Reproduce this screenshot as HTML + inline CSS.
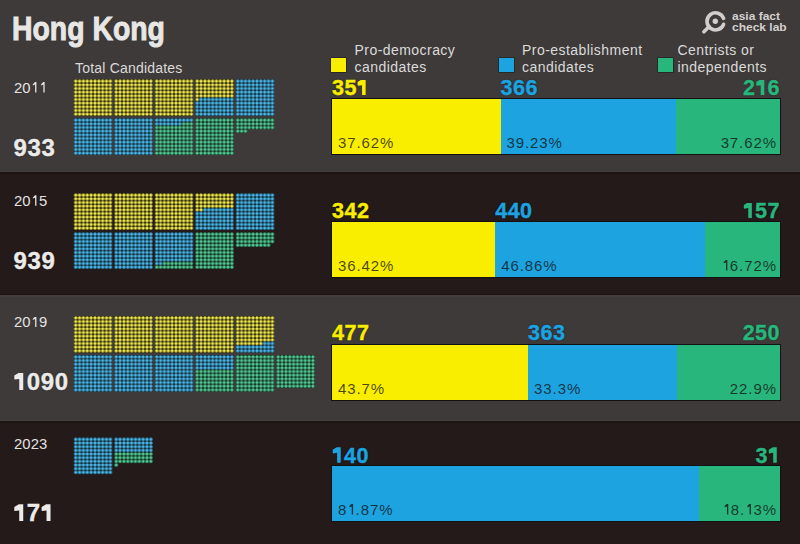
<!DOCTYPE html><html><head><meta charset="utf-8"><style>
html,body{margin:0;padding:0;}
body{width:800px;height:544px;overflow:hidden;position:relative;background:#3d3a39;font-family:"Liberation Sans",sans-serif;}
.sec{position:absolute;left:0;width:800px;}
.t{position:absolute;white-space:nowrap;line-height:1;}
.yr{font-size:14.8px;color:#e4e2e1;--c:#e4e2e1;left:14px;letter-spacing:0.1px;}
.tot{font-size:24px;font-weight:bold;color:#ecebea;--c:#ecebea;left:13.5px;letter-spacing:0.6px;-webkit-text-stroke:0.4px #ecebea;text-shadow:0 0 1.5px rgba(0,0,0,.9);}
.num{font-size:21.5px;font-weight:bold;letter-spacing:0.5px;-webkit-text-stroke:0.45px currentColor;text-shadow:0 0 1.5px rgba(0,0,0,.9);}
.pct{font-size:15px;letter-spacing:0.9px;color:rgba(16,14,14,0.76);--c:rgba(16,14,14,0.76);}
.lg{font-size:14px;color:#dcdad9;letter-spacing:0.45px;line-height:17px;}
.bar{position:absolute;left:331px;width:448px;height:55px;border:1px solid #111;}
.seg{position:absolute;top:0;height:100%;}
svg{position:absolute;left:0;top:0;}
.o1{display:inline-block;width:0.556em;height:0.716em;vertical-align:baseline;background:var(--c);
 clip-path:polygon(73% 0,73% 100%,43% 100%,43% 36%,9% 40%,6% 36%,6% 16%,40% 0);}
.yr .o1,.pct .o1{clip-path:polygon(70% 0,70% 100%,54% 100%,54% 24%,26% 32%,25% 23%,52% 0);}
</style></head><body>
<div class="sec" style="top:0px;height:172px;background:#3d3a39"></div>
<div class="sec" style="top:172px;height:123px;background:#231a19"></div>
<div class="sec" style="top:295px;height:126px;background:#3d3a39"></div>
<div class="sec" style="top:421px;height:123px;background:#231a19"></div>
<div class="sec" style="top:170.5px;height:1.5px;background:#443b3b"></div><div class="sec" style="top:172px;height:1.5px;background:#1d1514"></div>
<div class="sec" style="top:293.5px;height:1.5px;background:#1d1514"></div><div class="sec" style="top:295px;height:1.5px;background:#443b3b"></div>
<div class="sec" style="top:419.5px;height:1.5px;background:#443b3b"></div><div class="sec" style="top:421px;height:1.5px;background:#1d1514"></div>
<svg width="800" height="544" viewBox="0 0 800 544"><defs><pattern id="pY" width="3.85" height="3.66" patternUnits="userSpaceOnUse"><rect width="3.85" height="3.66" fill="#161400"/><circle cx="1.925" cy="1.83" r="1.7" fill="#f0e850"/></pattern><pattern id="pB" width="3.85" height="3.66" patternUnits="userSpaceOnUse"><rect width="3.85" height="3.66" fill="#0a1e2a"/><circle cx="1.925" cy="1.83" r="1.7" fill="#4ab6e6"/></pattern><pattern id="pG" width="3.85" height="3.66" patternUnits="userSpaceOnUse"><rect width="3.85" height="3.66" fill="#082216"/><circle cx="1.925" cy="1.83" r="1.7" fill="#52c792"/></pattern></defs>
<g transform="translate(73.80,79.30)"><rect x="0.00" y="0.00" width="38.50" height="3.66" fill="url(#pY)"/><rect x="0.00" y="3.66" width="38.50" height="3.66" fill="url(#pY)"/><rect x="0.00" y="7.32" width="38.50" height="3.66" fill="url(#pY)"/><rect x="0.00" y="10.98" width="38.50" height="3.66" fill="url(#pY)"/><rect x="0.00" y="14.64" width="38.50" height="3.66" fill="url(#pY)"/><rect x="0.00" y="18.30" width="38.50" height="3.66" fill="url(#pY)"/><rect x="0.00" y="21.96" width="38.50" height="3.66" fill="url(#pY)"/><rect x="0.00" y="25.62" width="38.50" height="3.66" fill="url(#pY)"/><rect x="0.00" y="29.28" width="38.50" height="3.66" fill="url(#pY)"/><rect x="0.00" y="32.94" width="38.50" height="3.66" fill="url(#pY)"/></g>
<g transform="translate(114.30,79.30)"><rect x="0.00" y="0.00" width="38.50" height="3.66" fill="url(#pY)"/><rect x="0.00" y="3.66" width="38.50" height="3.66" fill="url(#pY)"/><rect x="0.00" y="7.32" width="38.50" height="3.66" fill="url(#pY)"/><rect x="0.00" y="10.98" width="38.50" height="3.66" fill="url(#pY)"/><rect x="0.00" y="14.64" width="38.50" height="3.66" fill="url(#pY)"/><rect x="0.00" y="18.30" width="38.50" height="3.66" fill="url(#pY)"/><rect x="0.00" y="21.96" width="38.50" height="3.66" fill="url(#pY)"/><rect x="0.00" y="25.62" width="38.50" height="3.66" fill="url(#pY)"/><rect x="0.00" y="29.28" width="38.50" height="3.66" fill="url(#pY)"/><rect x="0.00" y="32.94" width="38.50" height="3.66" fill="url(#pY)"/></g>
<g transform="translate(154.80,79.30)"><rect x="0.00" y="0.00" width="38.50" height="3.66" fill="url(#pY)"/><rect x="0.00" y="3.66" width="38.50" height="3.66" fill="url(#pY)"/><rect x="0.00" y="7.32" width="38.50" height="3.66" fill="url(#pY)"/><rect x="0.00" y="10.98" width="38.50" height="3.66" fill="url(#pY)"/><rect x="0.00" y="14.64" width="38.50" height="3.66" fill="url(#pY)"/><rect x="0.00" y="18.30" width="38.50" height="3.66" fill="url(#pY)"/><rect x="0.00" y="21.96" width="38.50" height="3.66" fill="url(#pY)"/><rect x="0.00" y="25.62" width="38.50" height="3.66" fill="url(#pY)"/><rect x="0.00" y="29.28" width="38.50" height="3.66" fill="url(#pY)"/><rect x="0.00" y="32.94" width="38.50" height="3.66" fill="url(#pY)"/></g>
<g transform="translate(195.30,79.30)"><rect x="0.00" y="0.00" width="38.50" height="3.66" fill="url(#pY)"/><rect x="0.00" y="3.66" width="38.50" height="3.66" fill="url(#pY)"/><rect x="0.00" y="7.32" width="38.50" height="3.66" fill="url(#pY)"/><rect x="0.00" y="10.98" width="38.50" height="3.66" fill="url(#pY)"/><rect x="0.00" y="14.64" width="38.50" height="3.66" fill="url(#pY)"/><rect x="0.00" y="18.30" width="3.85" height="3.66" fill="url(#pY)"/><rect x="3.85" y="18.30" width="34.65" height="3.66" fill="url(#pB)"/><rect x="0.00" y="21.96" width="38.50" height="3.66" fill="url(#pB)"/><rect x="0.00" y="25.62" width="38.50" height="3.66" fill="url(#pB)"/><rect x="0.00" y="29.28" width="38.50" height="3.66" fill="url(#pB)"/><rect x="0.00" y="32.94" width="38.50" height="3.66" fill="url(#pB)"/></g>
<g transform="translate(235.80,79.30)"><rect x="0.00" y="0.00" width="38.50" height="3.66" fill="url(#pB)"/><rect x="0.00" y="3.66" width="38.50" height="3.66" fill="url(#pB)"/><rect x="0.00" y="7.32" width="38.50" height="3.66" fill="url(#pB)"/><rect x="0.00" y="10.98" width="38.50" height="3.66" fill="url(#pB)"/><rect x="0.00" y="14.64" width="38.50" height="3.66" fill="url(#pB)"/><rect x="0.00" y="18.30" width="38.50" height="3.66" fill="url(#pB)"/><rect x="0.00" y="21.96" width="38.50" height="3.66" fill="url(#pB)"/><rect x="0.00" y="25.62" width="38.50" height="3.66" fill="url(#pB)"/><rect x="0.00" y="29.28" width="38.50" height="3.66" fill="url(#pB)"/><rect x="0.00" y="32.94" width="38.50" height="3.66" fill="url(#pB)"/></g>
<g transform="translate(73.80,118.30)"><rect x="0.00" y="0.00" width="38.50" height="3.66" fill="url(#pB)"/><rect x="0.00" y="3.66" width="38.50" height="3.66" fill="url(#pB)"/><rect x="0.00" y="7.32" width="38.50" height="3.66" fill="url(#pB)"/><rect x="0.00" y="10.98" width="38.50" height="3.66" fill="url(#pB)"/><rect x="0.00" y="14.64" width="38.50" height="3.66" fill="url(#pB)"/><rect x="0.00" y="18.30" width="38.50" height="3.66" fill="url(#pB)"/><rect x="0.00" y="21.96" width="38.50" height="3.66" fill="url(#pB)"/><rect x="0.00" y="25.62" width="38.50" height="3.66" fill="url(#pB)"/><rect x="0.00" y="29.28" width="38.50" height="3.66" fill="url(#pB)"/><rect x="0.00" y="32.94" width="38.50" height="3.66" fill="url(#pB)"/></g>
<g transform="translate(114.30,118.30)"><rect x="0.00" y="0.00" width="38.50" height="3.66" fill="url(#pB)"/><rect x="0.00" y="3.66" width="38.50" height="3.66" fill="url(#pB)"/><rect x="0.00" y="7.32" width="38.50" height="3.66" fill="url(#pB)"/><rect x="0.00" y="10.98" width="38.50" height="3.66" fill="url(#pB)"/><rect x="0.00" y="14.64" width="38.50" height="3.66" fill="url(#pB)"/><rect x="0.00" y="18.30" width="38.50" height="3.66" fill="url(#pB)"/><rect x="0.00" y="21.96" width="38.50" height="3.66" fill="url(#pB)"/><rect x="0.00" y="25.62" width="38.50" height="3.66" fill="url(#pB)"/><rect x="0.00" y="29.28" width="38.50" height="3.66" fill="url(#pB)"/><rect x="0.00" y="32.94" width="38.50" height="3.66" fill="url(#pB)"/></g>
<g transform="translate(154.80,118.30)"><rect x="0.00" y="0.00" width="38.50" height="3.66" fill="url(#pB)"/><rect x="0.00" y="3.66" width="26.95" height="3.66" fill="url(#pB)"/><rect x="26.95" y="3.66" width="11.55" height="3.66" fill="url(#pG)"/><rect x="0.00" y="7.32" width="38.50" height="3.66" fill="url(#pG)"/><rect x="0.00" y="10.98" width="38.50" height="3.66" fill="url(#pG)"/><rect x="0.00" y="14.64" width="38.50" height="3.66" fill="url(#pG)"/><rect x="0.00" y="18.30" width="38.50" height="3.66" fill="url(#pG)"/><rect x="0.00" y="21.96" width="38.50" height="3.66" fill="url(#pG)"/><rect x="0.00" y="25.62" width="38.50" height="3.66" fill="url(#pG)"/><rect x="0.00" y="29.28" width="38.50" height="3.66" fill="url(#pG)"/><rect x="0.00" y="32.94" width="38.50" height="3.66" fill="url(#pG)"/></g>
<g transform="translate(195.30,118.30)"><rect x="0.00" y="0.00" width="38.50" height="3.66" fill="url(#pG)"/><rect x="0.00" y="3.66" width="38.50" height="3.66" fill="url(#pG)"/><rect x="0.00" y="7.32" width="38.50" height="3.66" fill="url(#pG)"/><rect x="0.00" y="10.98" width="38.50" height="3.66" fill="url(#pG)"/><rect x="0.00" y="14.64" width="38.50" height="3.66" fill="url(#pG)"/><rect x="0.00" y="18.30" width="38.50" height="3.66" fill="url(#pG)"/><rect x="0.00" y="21.96" width="38.50" height="3.66" fill="url(#pG)"/><rect x="0.00" y="25.62" width="38.50" height="3.66" fill="url(#pG)"/><rect x="0.00" y="29.28" width="38.50" height="3.66" fill="url(#pG)"/><rect x="0.00" y="32.94" width="38.50" height="3.66" fill="url(#pG)"/></g>
<g transform="translate(235.80,118.30)"><rect x="0.00" y="0.00" width="38.50" height="3.66" fill="url(#pG)"/><rect x="0.00" y="3.66" width="38.50" height="3.66" fill="url(#pG)"/><rect x="0.00" y="7.32" width="38.50" height="3.66" fill="url(#pG)"/><rect x="0.00" y="10.98" width="11.55" height="3.66" fill="url(#pG)"/></g>
<g transform="translate(73.80,193.30)"><rect x="0.00" y="0.00" width="38.50" height="3.66" fill="url(#pY)"/><rect x="0.00" y="3.66" width="38.50" height="3.66" fill="url(#pY)"/><rect x="0.00" y="7.32" width="38.50" height="3.66" fill="url(#pY)"/><rect x="0.00" y="10.98" width="38.50" height="3.66" fill="url(#pY)"/><rect x="0.00" y="14.64" width="38.50" height="3.66" fill="url(#pY)"/><rect x="0.00" y="18.30" width="38.50" height="3.66" fill="url(#pY)"/><rect x="0.00" y="21.96" width="38.50" height="3.66" fill="url(#pY)"/><rect x="0.00" y="25.62" width="38.50" height="3.66" fill="url(#pY)"/><rect x="0.00" y="29.28" width="38.50" height="3.66" fill="url(#pY)"/><rect x="0.00" y="32.94" width="38.50" height="3.66" fill="url(#pY)"/></g>
<g transform="translate(114.30,193.30)"><rect x="0.00" y="0.00" width="38.50" height="3.66" fill="url(#pY)"/><rect x="0.00" y="3.66" width="38.50" height="3.66" fill="url(#pY)"/><rect x="0.00" y="7.32" width="38.50" height="3.66" fill="url(#pY)"/><rect x="0.00" y="10.98" width="38.50" height="3.66" fill="url(#pY)"/><rect x="0.00" y="14.64" width="38.50" height="3.66" fill="url(#pY)"/><rect x="0.00" y="18.30" width="38.50" height="3.66" fill="url(#pY)"/><rect x="0.00" y="21.96" width="38.50" height="3.66" fill="url(#pY)"/><rect x="0.00" y="25.62" width="38.50" height="3.66" fill="url(#pY)"/><rect x="0.00" y="29.28" width="38.50" height="3.66" fill="url(#pY)"/><rect x="0.00" y="32.94" width="38.50" height="3.66" fill="url(#pY)"/></g>
<g transform="translate(154.80,193.30)"><rect x="0.00" y="0.00" width="38.50" height="3.66" fill="url(#pY)"/><rect x="0.00" y="3.66" width="38.50" height="3.66" fill="url(#pY)"/><rect x="0.00" y="7.32" width="38.50" height="3.66" fill="url(#pY)"/><rect x="0.00" y="10.98" width="38.50" height="3.66" fill="url(#pY)"/><rect x="0.00" y="14.64" width="38.50" height="3.66" fill="url(#pY)"/><rect x="0.00" y="18.30" width="38.50" height="3.66" fill="url(#pY)"/><rect x="0.00" y="21.96" width="38.50" height="3.66" fill="url(#pY)"/><rect x="0.00" y="25.62" width="38.50" height="3.66" fill="url(#pY)"/><rect x="0.00" y="29.28" width="38.50" height="3.66" fill="url(#pY)"/><rect x="0.00" y="32.94" width="38.50" height="3.66" fill="url(#pY)"/></g>
<g transform="translate(195.30,193.30)"><rect x="0.00" y="0.00" width="38.50" height="3.66" fill="url(#pY)"/><rect x="0.00" y="3.66" width="38.50" height="3.66" fill="url(#pY)"/><rect x="0.00" y="7.32" width="38.50" height="3.66" fill="url(#pY)"/><rect x="0.00" y="10.98" width="38.50" height="3.66" fill="url(#pY)"/><rect x="0.00" y="14.64" width="7.70" height="3.66" fill="url(#pY)"/><rect x="7.70" y="14.64" width="30.80" height="3.66" fill="url(#pB)"/><rect x="0.00" y="18.30" width="38.50" height="3.66" fill="url(#pB)"/><rect x="0.00" y="21.96" width="38.50" height="3.66" fill="url(#pB)"/><rect x="0.00" y="25.62" width="38.50" height="3.66" fill="url(#pB)"/><rect x="0.00" y="29.28" width="38.50" height="3.66" fill="url(#pB)"/><rect x="0.00" y="32.94" width="38.50" height="3.66" fill="url(#pB)"/></g>
<g transform="translate(235.80,193.30)"><rect x="0.00" y="0.00" width="38.50" height="3.66" fill="url(#pB)"/><rect x="0.00" y="3.66" width="38.50" height="3.66" fill="url(#pB)"/><rect x="0.00" y="7.32" width="38.50" height="3.66" fill="url(#pB)"/><rect x="0.00" y="10.98" width="38.50" height="3.66" fill="url(#pB)"/><rect x="0.00" y="14.64" width="38.50" height="3.66" fill="url(#pB)"/><rect x="0.00" y="18.30" width="38.50" height="3.66" fill="url(#pB)"/><rect x="0.00" y="21.96" width="38.50" height="3.66" fill="url(#pB)"/><rect x="0.00" y="25.62" width="38.50" height="3.66" fill="url(#pB)"/><rect x="0.00" y="29.28" width="38.50" height="3.66" fill="url(#pB)"/><rect x="0.00" y="32.94" width="38.50" height="3.66" fill="url(#pB)"/></g>
<g transform="translate(73.80,232.30)"><rect x="0.00" y="0.00" width="38.50" height="3.66" fill="url(#pB)"/><rect x="0.00" y="3.66" width="38.50" height="3.66" fill="url(#pB)"/><rect x="0.00" y="7.32" width="38.50" height="3.66" fill="url(#pB)"/><rect x="0.00" y="10.98" width="38.50" height="3.66" fill="url(#pB)"/><rect x="0.00" y="14.64" width="38.50" height="3.66" fill="url(#pB)"/><rect x="0.00" y="18.30" width="38.50" height="3.66" fill="url(#pB)"/><rect x="0.00" y="21.96" width="38.50" height="3.66" fill="url(#pB)"/><rect x="0.00" y="25.62" width="38.50" height="3.66" fill="url(#pB)"/><rect x="0.00" y="29.28" width="38.50" height="3.66" fill="url(#pB)"/><rect x="0.00" y="32.94" width="38.50" height="3.66" fill="url(#pB)"/></g>
<g transform="translate(114.30,232.30)"><rect x="0.00" y="0.00" width="38.50" height="3.66" fill="url(#pB)"/><rect x="0.00" y="3.66" width="38.50" height="3.66" fill="url(#pB)"/><rect x="0.00" y="7.32" width="38.50" height="3.66" fill="url(#pB)"/><rect x="0.00" y="10.98" width="38.50" height="3.66" fill="url(#pB)"/><rect x="0.00" y="14.64" width="38.50" height="3.66" fill="url(#pB)"/><rect x="0.00" y="18.30" width="38.50" height="3.66" fill="url(#pB)"/><rect x="0.00" y="21.96" width="38.50" height="3.66" fill="url(#pB)"/><rect x="0.00" y="25.62" width="38.50" height="3.66" fill="url(#pB)"/><rect x="0.00" y="29.28" width="38.50" height="3.66" fill="url(#pB)"/><rect x="0.00" y="32.94" width="38.50" height="3.66" fill="url(#pB)"/></g>
<g transform="translate(154.80,232.30)"><rect x="0.00" y="0.00" width="38.50" height="3.66" fill="url(#pB)"/><rect x="0.00" y="3.66" width="38.50" height="3.66" fill="url(#pB)"/><rect x="0.00" y="7.32" width="38.50" height="3.66" fill="url(#pB)"/><rect x="0.00" y="10.98" width="38.50" height="3.66" fill="url(#pB)"/><rect x="0.00" y="14.64" width="38.50" height="3.66" fill="url(#pB)"/><rect x="0.00" y="18.30" width="38.50" height="3.66" fill="url(#pB)"/><rect x="0.00" y="21.96" width="38.50" height="3.66" fill="url(#pB)"/><rect x="0.00" y="25.62" width="38.50" height="3.66" fill="url(#pB)"/><rect x="0.00" y="29.28" width="7.70" height="3.66" fill="url(#pB)"/><rect x="7.70" y="29.28" width="30.80" height="3.66" fill="url(#pG)"/><rect x="0.00" y="32.94" width="38.50" height="3.66" fill="url(#pG)"/></g>
<g transform="translate(195.30,232.30)"><rect x="0.00" y="0.00" width="38.50" height="3.66" fill="url(#pG)"/><rect x="0.00" y="3.66" width="38.50" height="3.66" fill="url(#pG)"/><rect x="0.00" y="7.32" width="38.50" height="3.66" fill="url(#pG)"/><rect x="0.00" y="10.98" width="38.50" height="3.66" fill="url(#pG)"/><rect x="0.00" y="14.64" width="38.50" height="3.66" fill="url(#pG)"/><rect x="0.00" y="18.30" width="38.50" height="3.66" fill="url(#pG)"/><rect x="0.00" y="21.96" width="38.50" height="3.66" fill="url(#pG)"/><rect x="0.00" y="25.62" width="38.50" height="3.66" fill="url(#pG)"/><rect x="0.00" y="29.28" width="38.50" height="3.66" fill="url(#pG)"/><rect x="0.00" y="32.94" width="38.50" height="3.66" fill="url(#pG)"/></g>
<g transform="translate(235.80,232.30)"><rect x="0.00" y="0.00" width="38.50" height="3.66" fill="url(#pG)"/><rect x="0.00" y="3.66" width="38.50" height="3.66" fill="url(#pG)"/><rect x="0.00" y="7.32" width="38.50" height="3.66" fill="url(#pG)"/><rect x="0.00" y="10.98" width="34.65" height="3.66" fill="url(#pG)"/></g>
<g transform="translate(73.80,316.00)"><rect x="0.00" y="0.00" width="38.50" height="3.66" fill="url(#pY)"/><rect x="0.00" y="3.66" width="38.50" height="3.66" fill="url(#pY)"/><rect x="0.00" y="7.32" width="38.50" height="3.66" fill="url(#pY)"/><rect x="0.00" y="10.98" width="38.50" height="3.66" fill="url(#pY)"/><rect x="0.00" y="14.64" width="38.50" height="3.66" fill="url(#pY)"/><rect x="0.00" y="18.30" width="38.50" height="3.66" fill="url(#pY)"/><rect x="0.00" y="21.96" width="38.50" height="3.66" fill="url(#pY)"/><rect x="0.00" y="25.62" width="38.50" height="3.66" fill="url(#pY)"/><rect x="0.00" y="29.28" width="38.50" height="3.66" fill="url(#pY)"/><rect x="0.00" y="32.94" width="38.50" height="3.66" fill="url(#pY)"/></g>
<g transform="translate(114.30,316.00)"><rect x="0.00" y="0.00" width="38.50" height="3.66" fill="url(#pY)"/><rect x="0.00" y="3.66" width="38.50" height="3.66" fill="url(#pY)"/><rect x="0.00" y="7.32" width="38.50" height="3.66" fill="url(#pY)"/><rect x="0.00" y="10.98" width="38.50" height="3.66" fill="url(#pY)"/><rect x="0.00" y="14.64" width="38.50" height="3.66" fill="url(#pY)"/><rect x="0.00" y="18.30" width="38.50" height="3.66" fill="url(#pY)"/><rect x="0.00" y="21.96" width="38.50" height="3.66" fill="url(#pY)"/><rect x="0.00" y="25.62" width="38.50" height="3.66" fill="url(#pY)"/><rect x="0.00" y="29.28" width="38.50" height="3.66" fill="url(#pY)"/><rect x="0.00" y="32.94" width="38.50" height="3.66" fill="url(#pY)"/></g>
<g transform="translate(154.80,316.00)"><rect x="0.00" y="0.00" width="38.50" height="3.66" fill="url(#pY)"/><rect x="0.00" y="3.66" width="38.50" height="3.66" fill="url(#pY)"/><rect x="0.00" y="7.32" width="38.50" height="3.66" fill="url(#pY)"/><rect x="0.00" y="10.98" width="38.50" height="3.66" fill="url(#pY)"/><rect x="0.00" y="14.64" width="38.50" height="3.66" fill="url(#pY)"/><rect x="0.00" y="18.30" width="38.50" height="3.66" fill="url(#pY)"/><rect x="0.00" y="21.96" width="38.50" height="3.66" fill="url(#pY)"/><rect x="0.00" y="25.62" width="38.50" height="3.66" fill="url(#pY)"/><rect x="0.00" y="29.28" width="38.50" height="3.66" fill="url(#pY)"/><rect x="0.00" y="32.94" width="38.50" height="3.66" fill="url(#pY)"/></g>
<g transform="translate(195.30,316.00)"><rect x="0.00" y="0.00" width="38.50" height="3.66" fill="url(#pY)"/><rect x="0.00" y="3.66" width="38.50" height="3.66" fill="url(#pY)"/><rect x="0.00" y="7.32" width="38.50" height="3.66" fill="url(#pY)"/><rect x="0.00" y="10.98" width="38.50" height="3.66" fill="url(#pY)"/><rect x="0.00" y="14.64" width="38.50" height="3.66" fill="url(#pY)"/><rect x="0.00" y="18.30" width="38.50" height="3.66" fill="url(#pY)"/><rect x="0.00" y="21.96" width="38.50" height="3.66" fill="url(#pY)"/><rect x="0.00" y="25.62" width="38.50" height="3.66" fill="url(#pY)"/><rect x="0.00" y="29.28" width="38.50" height="3.66" fill="url(#pY)"/><rect x="0.00" y="32.94" width="38.50" height="3.66" fill="url(#pY)"/></g>
<g transform="translate(235.80,316.00)"><rect x="0.00" y="0.00" width="38.50" height="3.66" fill="url(#pY)"/><rect x="0.00" y="3.66" width="38.50" height="3.66" fill="url(#pY)"/><rect x="0.00" y="7.32" width="38.50" height="3.66" fill="url(#pY)"/><rect x="0.00" y="10.98" width="38.50" height="3.66" fill="url(#pY)"/><rect x="0.00" y="14.64" width="38.50" height="3.66" fill="url(#pY)"/><rect x="0.00" y="18.30" width="38.50" height="3.66" fill="url(#pY)"/><rect x="0.00" y="21.96" width="38.50" height="3.66" fill="url(#pY)"/><rect x="0.00" y="25.62" width="26.95" height="3.66" fill="url(#pY)"/><rect x="26.95" y="25.62" width="11.55" height="3.66" fill="url(#pB)"/><rect x="0.00" y="29.28" width="38.50" height="3.66" fill="url(#pB)"/><rect x="0.00" y="32.94" width="38.50" height="3.66" fill="url(#pB)"/></g>
<g transform="translate(73.80,355.00)"><rect x="0.00" y="0.00" width="38.50" height="3.66" fill="url(#pB)"/><rect x="0.00" y="3.66" width="38.50" height="3.66" fill="url(#pB)"/><rect x="0.00" y="7.32" width="38.50" height="3.66" fill="url(#pB)"/><rect x="0.00" y="10.98" width="38.50" height="3.66" fill="url(#pB)"/><rect x="0.00" y="14.64" width="38.50" height="3.66" fill="url(#pB)"/><rect x="0.00" y="18.30" width="38.50" height="3.66" fill="url(#pB)"/><rect x="0.00" y="21.96" width="38.50" height="3.66" fill="url(#pB)"/><rect x="0.00" y="25.62" width="38.50" height="3.66" fill="url(#pB)"/><rect x="0.00" y="29.28" width="38.50" height="3.66" fill="url(#pB)"/><rect x="0.00" y="32.94" width="38.50" height="3.66" fill="url(#pB)"/></g>
<g transform="translate(114.30,355.00)"><rect x="0.00" y="0.00" width="38.50" height="3.66" fill="url(#pB)"/><rect x="0.00" y="3.66" width="38.50" height="3.66" fill="url(#pB)"/><rect x="0.00" y="7.32" width="38.50" height="3.66" fill="url(#pB)"/><rect x="0.00" y="10.98" width="38.50" height="3.66" fill="url(#pB)"/><rect x="0.00" y="14.64" width="38.50" height="3.66" fill="url(#pB)"/><rect x="0.00" y="18.30" width="38.50" height="3.66" fill="url(#pB)"/><rect x="0.00" y="21.96" width="38.50" height="3.66" fill="url(#pB)"/><rect x="0.00" y="25.62" width="38.50" height="3.66" fill="url(#pB)"/><rect x="0.00" y="29.28" width="38.50" height="3.66" fill="url(#pB)"/><rect x="0.00" y="32.94" width="38.50" height="3.66" fill="url(#pB)"/></g>
<g transform="translate(154.80,355.00)"><rect x="0.00" y="0.00" width="38.50" height="3.66" fill="url(#pB)"/><rect x="0.00" y="3.66" width="38.50" height="3.66" fill="url(#pB)"/><rect x="0.00" y="7.32" width="38.50" height="3.66" fill="url(#pB)"/><rect x="0.00" y="10.98" width="38.50" height="3.66" fill="url(#pB)"/><rect x="0.00" y="14.64" width="38.50" height="3.66" fill="url(#pB)"/><rect x="0.00" y="18.30" width="38.50" height="3.66" fill="url(#pB)"/><rect x="0.00" y="21.96" width="38.50" height="3.66" fill="url(#pB)"/><rect x="0.00" y="25.62" width="38.50" height="3.66" fill="url(#pB)"/><rect x="0.00" y="29.28" width="38.50" height="3.66" fill="url(#pB)"/><rect x="0.00" y="32.94" width="38.50" height="3.66" fill="url(#pB)"/></g>
<g transform="translate(195.30,355.00)"><rect x="0.00" y="0.00" width="38.50" height="3.66" fill="url(#pB)"/><rect x="0.00" y="3.66" width="38.50" height="3.66" fill="url(#pB)"/><rect x="0.00" y="7.32" width="38.50" height="3.66" fill="url(#pB)"/><rect x="0.00" y="10.98" width="38.50" height="3.66" fill="url(#pB)"/><rect x="0.00" y="14.64" width="38.50" height="3.66" fill="url(#pG)"/><rect x="0.00" y="18.30" width="38.50" height="3.66" fill="url(#pG)"/><rect x="0.00" y="21.96" width="38.50" height="3.66" fill="url(#pG)"/><rect x="0.00" y="25.62" width="38.50" height="3.66" fill="url(#pG)"/><rect x="0.00" y="29.28" width="38.50" height="3.66" fill="url(#pG)"/><rect x="0.00" y="32.94" width="38.50" height="3.66" fill="url(#pG)"/></g>
<g transform="translate(235.80,355.00)"><rect x="0.00" y="0.00" width="38.50" height="3.66" fill="url(#pG)"/><rect x="0.00" y="3.66" width="38.50" height="3.66" fill="url(#pG)"/><rect x="0.00" y="7.32" width="38.50" height="3.66" fill="url(#pG)"/><rect x="0.00" y="10.98" width="38.50" height="3.66" fill="url(#pG)"/><rect x="0.00" y="14.64" width="38.50" height="3.66" fill="url(#pG)"/><rect x="0.00" y="18.30" width="38.50" height="3.66" fill="url(#pG)"/><rect x="0.00" y="21.96" width="38.50" height="3.66" fill="url(#pG)"/><rect x="0.00" y="25.62" width="38.50" height="3.66" fill="url(#pG)"/><rect x="0.00" y="29.28" width="38.50" height="3.66" fill="url(#pG)"/><rect x="0.00" y="32.94" width="38.50" height="3.66" fill="url(#pG)"/></g>
<g transform="translate(276.30,355.00)"><rect x="0.00" y="0.00" width="38.50" height="3.66" fill="url(#pG)"/><rect x="0.00" y="3.66" width="38.50" height="3.66" fill="url(#pG)"/><rect x="0.00" y="7.32" width="38.50" height="3.66" fill="url(#pG)"/><rect x="0.00" y="10.98" width="38.50" height="3.66" fill="url(#pG)"/><rect x="0.00" y="14.64" width="38.50" height="3.66" fill="url(#pG)"/><rect x="0.00" y="18.30" width="38.50" height="3.66" fill="url(#pG)"/><rect x="0.00" y="21.96" width="38.50" height="3.66" fill="url(#pG)"/><rect x="0.00" y="25.62" width="38.50" height="3.66" fill="url(#pG)"/><rect x="0.00" y="29.28" width="38.50" height="3.66" fill="url(#pG)"/></g>
<g transform="translate(73.80,437.50)"><rect x="0.00" y="0.00" width="38.50" height="3.66" fill="url(#pB)"/><rect x="0.00" y="3.66" width="38.50" height="3.66" fill="url(#pB)"/><rect x="0.00" y="7.32" width="38.50" height="3.66" fill="url(#pB)"/><rect x="0.00" y="10.98" width="38.50" height="3.66" fill="url(#pB)"/><rect x="0.00" y="14.64" width="38.50" height="3.66" fill="url(#pB)"/><rect x="0.00" y="18.30" width="38.50" height="3.66" fill="url(#pB)"/><rect x="0.00" y="21.96" width="38.50" height="3.66" fill="url(#pB)"/><rect x="0.00" y="25.62" width="38.50" height="3.66" fill="url(#pB)"/><rect x="0.00" y="29.28" width="38.50" height="3.66" fill="url(#pB)"/><rect x="0.00" y="32.94" width="38.50" height="3.66" fill="url(#pB)"/></g>
<g transform="translate(114.30,437.50)"><rect x="0.00" y="0.00" width="38.50" height="3.66" fill="url(#pB)"/><rect x="0.00" y="3.66" width="38.50" height="3.66" fill="url(#pB)"/><rect x="0.00" y="7.32" width="38.50" height="3.66" fill="url(#pB)"/><rect x="0.00" y="10.98" width="38.50" height="3.66" fill="url(#pB)"/><rect x="0.00" y="14.64" width="38.50" height="3.66" fill="url(#pG)"/><rect x="0.00" y="18.30" width="38.50" height="3.66" fill="url(#pG)"/><rect x="0.00" y="21.96" width="38.50" height="3.66" fill="url(#pG)"/><rect x="0.00" y="25.62" width="3.85" height="3.66" fill="url(#pG)"/></g>
</svg>
<div class="t yr" style="top:80.6px">20<span class="o1"></span><span class="o1"></span></div>
<div class="t tot" style="top:135.9px">933</div>
<div class="bar" style="top:98.0px"><div class="seg" style="left:0.00px;width:168.54px;background:#f9ed00"></div><div class="seg" style="left:168.54px;width:175.74px;background:#1ca3e0"></div><div class="seg" style="left:344.28px;width:103.72px;background:#28b67d"></div></div>
<div class="t num" style="top:78.0px;color:#f9ed00;--c:#f9ed00;left:332.0px">35<span class="o1"></span></div>
<div class="t num" style="top:78.0px;color:#1ca3e0;--c:#1ca3e0;left:500.5px">366</div>
<div class="t num" style="top:78.0px;color:#28b67d;--c:#28b67d;right:20.0px">2<span class="o1"></span>6</div>
<div class="t pct" style="top:134.6px;left:338.0px">37.62%</div>
<div class="t pct" style="top:134.6px;left:506.5px">39.23%</div>
<div class="t pct" style="top:134.6px;right:23.1px">37.62%</div>
<div class="t yr" style="top:193.8px">20<span class="o1"></span>5</div>
<div class="t tot" style="top:249.0px">939</div>
<div class="bar" style="top:221.0px"><div class="seg" style="left:0.00px;width:163.17px;background:#f9ed00"></div><div class="seg" style="left:163.17px;width:209.93px;background:#1ca3e0"></div><div class="seg" style="left:373.09px;width:74.91px;background:#28b67d"></div></div>
<div class="t num" style="top:200.9px;color:#f9ed00;--c:#f9ed00;left:332.0px">342</div>
<div class="t num" style="top:200.9px;color:#1ca3e0;--c:#1ca3e0;left:495.2px">440</div>
<div class="t num" style="top:200.9px;color:#28b67d;--c:#28b67d;right:20.0px"><span class="o1"></span>57</div>
<div class="t pct" style="top:257.6px;left:338.0px">36.42%</div>
<div class="t pct" style="top:257.6px;left:501.2px">46.86%</div>
<div class="t pct" style="top:257.6px;right:23.1px"><span class="o1"></span>6.72%</div>
<div class="t yr" style="top:315.1px">20<span class="o1"></span>9</div>
<div class="t tot" style="top:369.9px"><span class="o1"></span>090</div>
<div class="bar" style="top:344.0px"><div class="seg" style="left:0.00px;width:196.05px;background:#f9ed00"></div><div class="seg" style="left:196.05px;width:149.20px;background:#1ca3e0"></div><div class="seg" style="left:345.25px;width:102.75px;background:#28b67d"></div></div>
<div class="t num" style="top:323.2px;color:#f9ed00;--c:#f9ed00;left:332.0px">477</div>
<div class="t num" style="top:323.2px;color:#1ca3e0;--c:#1ca3e0;left:528.1px">363</div>
<div class="t num" style="top:323.2px;color:#28b67d;--c:#28b67d;right:20.0px">250</div>
<div class="t pct" style="top:380.6px;left:338.0px">43.7%</div>
<div class="t pct" style="top:380.6px;left:534.1px">33.3%</div>
<div class="t pct" style="top:380.6px;right:23.1px">22.9%</div>
<div class="t yr" style="top:437.2px">2023</div>
<div class="t tot" style="top:501.4px"><span class="o1"></span>7<span class="o1"></span></div>
<div class="bar" style="top:465.0px"><div class="seg" style="left:0.00px;width:366.78px;background:#1ca3e0"></div><div class="seg" style="left:366.78px;width:81.22px;background:#28b67d"></div></div>
<div class="t num" style="top:445.7px;color:#1ca3e0;--c:#1ca3e0;left:332.0px"><span class="o1"></span>40</div>
<div class="t num" style="top:445.7px;color:#28b67d;--c:#28b67d;right:20.0px">3<span class="o1"></span></div>
<div class="t pct" style="top:501.6px;left:338.0px">8<span class="o1"></span>.87%</div>
<div class="t pct" style="top:501.6px;right:23.1px"><span class="o1"></span>8.<span class="o1"></span>3%</div>
<div class="t" style="left:12px;top:12px;font-size:33px;font-weight:bold;color:#e8e7e5;transform:scaleX(0.86);transform-origin:0 0;-webkit-text-stroke:1px #e8e7e5;text-shadow:0 0 1.5px rgba(0,0,0,.8)">Hong Kong</div>
<div class="t" style="left:75px;top:60.5px;font-size:14px;color:#dcdad9;letter-spacing:0.2px">Total Candidates</div>
<div style="position:absolute;left:331px;top:57.8px;width:15px;height:14.6px;background:#f9ed00;box-shadow:0 0 0 0.6px rgba(0,0,0,.5)"></div>
<div class="t lg" style="left:354.5px;top:42.3px">Pro-democracy<br>candidates</div>
<div style="position:absolute;left:498.5px;top:57.8px;width:15px;height:14.6px;background:#1ca3e0;box-shadow:0 0 0 0.6px rgba(0,0,0,.5)"></div>
<div class="t lg" style="left:522px;top:42.3px">Pro-establishment<br>candidates</div>
<div style="position:absolute;left:657.5px;top:57.8px;width:15px;height:14.6px;background:#28b67d;box-shadow:0 0 0 0.6px rgba(0,0,0,.5)"></div>
<div class="t lg" style="left:677.5px;top:42.3px">Centrists or<br>independents</div>
<svg style="left:700px;top:8px" width="30" height="30" viewBox="0 0 30 30">
<path d="M23.58 10.43 A8.55 8.55 0 1 0 23.58 16.27" fill="none" stroke="#d2cecd" stroke-width="3.6" stroke-linecap="round"/>
<circle cx="15.3" cy="13.2" r="2.7" fill="#d2cecd"/>
<line x1="3.9" y1="23.8" x2="9" y2="18.8" stroke="#d2cecd" stroke-width="3.6" stroke-linecap="round"/>
</svg>
<div class="t" style="left:731.8px;top:11px;font-size:11px;font-weight:bold;color:#d4d0cf;line-height:10.5px;transform:scaleX(1.09);transform-origin:0 0">asia fact<br>check lab</div>
</body></html>
